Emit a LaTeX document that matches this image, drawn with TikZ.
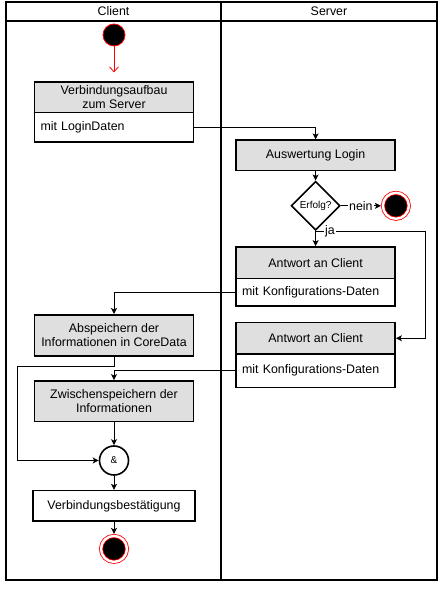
\documentclass[tikz,border=0pt]{standalone}
\usepackage{fontspec}
\setmainfont{Liberation Sans}
\usetikzlibrary{shapes.geometric, arrows.meta, positioning}
\tikzstyle{lane} = [draw=black, line width=1.6pt]
\tikzstyle{lanetitle} = [inner sep=0pt]
\tikzstyle{actionhead} = [rectangle, draw=black, line width=1.6pt, fill=gray!25, minimum width=159pt, minimum height=30.5pt, inner ysep=1pt, text centered, align=center]
\tikzstyle{actionbody} = [rectangle, draw=black, line width=1.6pt, fill=white, minimum width=159pt, minimum height=29.5pt, text width=147pt, inner xsep=6pt, align=left]
\tikzstyle{decision} = [diamond, draw=black, line width=1.6pt, fill=white, minimum width=49pt, minimum height=49pt, inner sep=0pt, font=\fontsize{10pt}{12pt}\selectfont]
\tikzstyle{synchro} = [circle, draw=black, line width=1.6pt, fill=white, minimum size=29pt, inner sep=0pt, font=\fontsize{10pt}{12pt}\selectfont]
\tikzstyle{startpunkt} = [circle, draw=red, fill=black, line width=0.8pt, minimum size=22pt, inner sep=0pt]
\tikzstyle{endpunkt} = [circle, draw=red, fill=black, line width=0.8pt, double=white, double distance=2.4pt, minimum size=26pt, inner sep=0pt, outer sep=2pt]
\tikzstyle{flow} = [draw, line width=0.8pt, -{Stealth[length=6pt, width=6pt, inset=1.5pt]}]
\tikzstyle{startline} = [draw=red, line width=0.8pt, -{Straight Barb[length=5pt, width=9pt]}, shorten >=9pt]

\begin{document}
\begin{tikzpicture}[font=\fontsize{12.4pt}{14pt}\selectfont]
\useasboundingbox (0,0) rectangle (443pt,589pt);

% Bahnen
\draw [lane] (6pt,9pt) rectangle (437pt,587pt);
\draw [lane] (6pt,568pt) -- (437pt,568pt);
\draw [lane] (221pt,9pt) -- (221pt,587pt);
\node (client) [lanetitle] at (113.5pt,577.5pt) {Client};
\node (server) [lanetitle] at (329pt,577.5pt) {Server};

% Client
\node (start) [startpunkt] at (114pt,554pt) {};
\node (verb) [actionhead, below=35pt of start] {Verbindungsaufbau\\zum Server};
\node (login) [actionbody, below=-1.6pt of verb] {mit LoginDaten};
\node (abspeichern) [actionhead, below=171pt of login, minimum height=41.5pt] {Abspeichern der\\Informationen in CoreData};
\node (zwischen) [actionhead, below=23pt of abspeichern, minimum height=40.5pt] {Zwischenspeichern der\\Informationen};
\node (und) [synchro, below=23pt of zwischen] {\&};
\node (bestaetigung) [actionhead, fill=white, below=14pt of und, minimum width=162.5pt] {Verbindungsbestätigung};
\node (ende2) [endpunkt, below=12pt of bestaetigung] {};

% Server
\node (auswertung) [actionhead, right=41pt of login, yshift=-28pt] {Auswertung Login};
\node (erfolg) [decision, below=9pt of auswertung] {Erfolg?};
\node (ende1) [endpunkt, right=40pt of erfolg] {};
\node (antwort1head) [actionhead, below=15pt of erfolg, minimum height=31.5pt] {Antwort an Client};
\node (antwort1body) [actionbody, below=-1.6pt of antwort1head, minimum height=27.5pt] {mit Konfigurations-Daten};
\node (antwort2head) [actionhead, below=15pt of antwort1body, minimum height=31.5pt] {Antwort an Client};
\node (antwort2body) [actionbody, below=-1.6pt of antwort2head, minimum height=33.5pt] {mit Konfigurations-Daten};

\coordinate (jaecke) at ([xshift=110pt]erfolg.south);
\coordinate (schleife) at ([xshift=-97pt, yshift=-9pt]abspeichern.south);

% Verbindungen
\draw [startline] (start) -- (verb);
\draw [flow] (login.east) -| (auswertung.north);
\draw [flow] (auswertung) -- (erfolg);
\draw [flow] (erfolg) -- node[fill=white, inner sep=1pt] {nein} (ende1);
\draw [flow] (erfolg) -- (antwort1head);
\draw [flow] (erfolg.south) -- node[pos=0.13, fill=white, inner sep=1pt] {ja} (jaecke) |- (antwort2head.east);
\draw [flow] (antwort1body.west) -| (abspeichern.north);
\draw [flow] (antwort2body.west) -| (zwischen.north);
\draw [flow] (abspeichern.south) |- (schleife) |- (und.west);
\draw [flow] (zwischen) -- (und);
\draw [flow] (und) -- (bestaetigung);
\draw [flow] (bestaetigung) -- (ende2);

\end{tikzpicture}
\end{document}
